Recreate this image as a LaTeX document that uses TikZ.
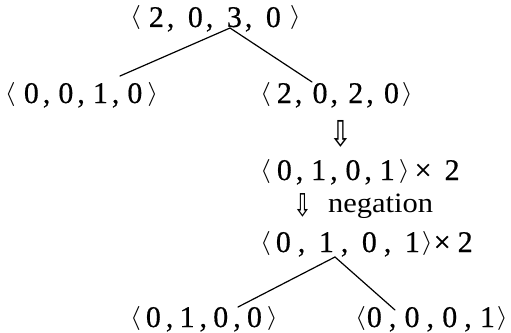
\documentclass[tikz,border=0pt]{standalone}
\usepackage{fontspec}
\usepackage{graphicx}
\setmainfont{Liberation Serif}
\newfontfamily\arrowfont{DejaVu Sans}
\newfontfamily\txtfont[FakeBold=0.5]{Liberation Serif}
\newcommand{\lab}{\raisebox{3pt}{\fontsize{10}{12}\selectfont\scalebox{2.8}[2.4]{$\langle$}}}
\newcommand{\rab}{\raisebox{3pt}{\fontsize{10}{12}\selectfont\scalebox{2.8}[2.4]{$\rangle$}}}
% #1 gap after <, #2 gap before comma, #3 gap after comma, #4 gap before >
\newcommand{\tup}[8]{\lab\hspace{#1pt}#5\hspace{#2pt},\hspace{#3pt}#6\hspace{#2pt},\hspace{#3pt}#7\hspace{#2pt},\hspace{#3pt}#8\hspace{#4pt}\rab}
\tikzset{
  txt/.style={anchor=base west, inner sep=0pt, outer sep=0pt, font=\txtfont\fontsize{30}{32}\selectfont},
  darrow/.style={inner sep=0pt, outer sep=0pt, font=\arrowfont\fontsize{34}{36}\selectfont},
  link/.style={line width=1.2pt, line cap=round}
}
\begin{document}
\begin{tikzpicture}[x=1pt,y=-1pt]
\useasboundingbox (0,0) rectangle (511,332);
% row A
\node[txt] (a) at (130,27) {\tup{8}{3}{13.5}{9}{2}{0}{3}{0}};
% row B
\node[txt] (b) at (5,103) {\tup{8}{4}{8}{5}{0}{0}{1}{0}};
\node[txt] (c) at (260,103) {\tup{6}{3}{10.2}{3}{2}{0}{2}{0}};
% arrow 1
\node[darrow] (ar1) at (341,134) {\scalebox{0.8}[1.05]{⇩}};
% row C
\node[txt] (d) at (260,180) {\tup{6}{4}{7.8}{4}{0}{1}{0}{1}\hspace{5pt}×\hspace{13pt}2};
% negation
\node[darrow, font=\arrowfont\fontsize{30}{32}\selectfont] (ar2) at (303,205) {\scalebox{0.75}[1.05]{⇩}};
\node[txt, font=\rmfamily\fontsize{28}{30}\selectfont] (neg) at (328,212) {\scalebox{1.09}[1]{negation}};
% row D
\node[txt] (e) at (260,252) {\tup{5}{7}{13.5}{2}{0}{1}{0}{1}\hspace{1pt}×\hspace{7pt}2};
% row E
\node[txt] (f) at (130,327) {\tup{5}{5}{6.2}{5}{0}{1}{0}{0}};
\node[txt] (g) at (355,327) {\tup{1}{7}{8.2}{2}{0}{0}{0}{1}};
% connector end points
\coordinate (a-j) at (230,28);
\coordinate (b-j) at (120,76);
\coordinate (c-j) at (312,82);
\coordinate (e-j) at (335,257);
\coordinate (f-j) at (238,307);
\coordinate (g-j) at (395,310);
\draw[link] (a-j) -- (b-j);
\draw[link] (a-j) -- (c-j);
\draw[link] (e-j) -- (f-j);
\draw[link] (e-j) -- (g-j);
\end{tikzpicture}
\end{document}
